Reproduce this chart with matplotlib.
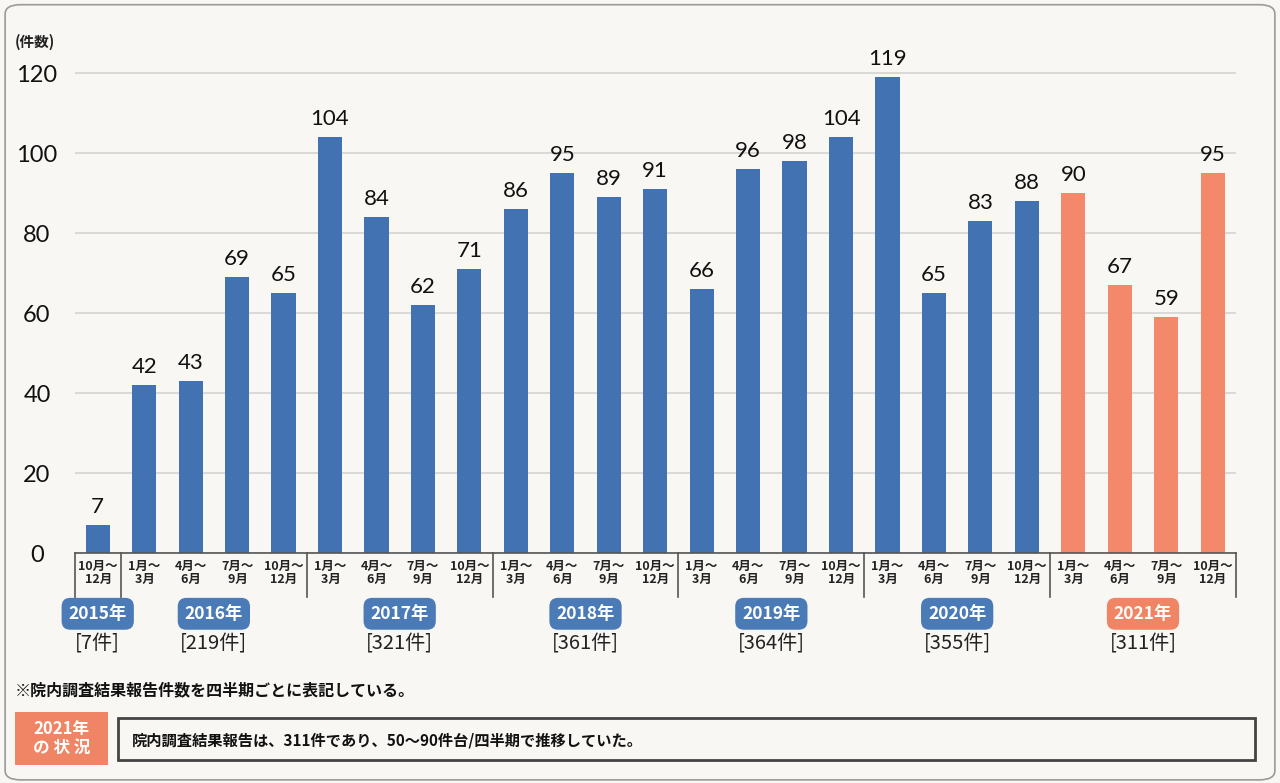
import matplotlib
matplotlib.use("Agg")
import matplotlib.pyplot as plt
from matplotlib.patches import FancyBboxPatch, Rectangle

# ---- data ----
values = [7, 42, 43, 69, 65, 104, 84, 62, 71, 86, 95, 89, 91, 66, 96, 98, 104,
          119, 65, 83, 88, 90, 67, 59, 95]
quarter_labels = ["10月～\n12月"] + ["1月～\n3月", "4月～\n6月", "7月～\n9月", "10月～\n12月"] * 6
years = ["2015年", "2016年", "2017年", "2018年", "2019年", "2020年", "2021年"]
year_counts = ["[7件]", "[219件]", "[321件]", "[361件]", "[364件]", "[355件]", "[311件]"]
year_quarters = [1, 4, 4, 4, 4, 4, 4]
highlight_year = "2021年"
yticks = [0, 20, 40, 60, 80, 100, 120]
ylabel = "(件数)"
note = "※院内調査結果報告件数を四半期ごとに表記している。"
status_title = "2021年\nの 状 況"
status_text = "院内調査結果報告は、311件であり、50～90件台/四半期で推移していた。"

BLUE = "#4272b2"
BLUE_BOX = "#4a7bb6"
ORANGE = "#f4886a"
ORANGE_BOX = "#f08565"
BG = "#f8f7f3"
JP = ["Noto Sans CJK JP", "DejaVu Sans"]
NUM = ["Lato", "Noto Sans CJK JP", "DejaVu Sans"]

fig = plt.figure(figsize=(12.8, 7.83), dpi=100)
fig.patch.set_facecolor(BG)

# page border
fig.patches.append(FancyBboxPatch((0.004, 0.004), 0.992, 0.990,
                                  boxstyle="round,pad=0,rounding_size=0.012",
                                  transform=fig.transFigure, fc="none",
                                  ec="#9a9a9a", lw=1.2))

ax = fig.add_axes([74.5 / 1280, 230 / 783, 1161.4 / 1280, 500 / 783])
ax.set_facecolor("none")
ax.set_xlim(-0.5, len(values) - 0.5)
ax.set_ylim(0, 125)

# colours per bar by year
colors = []
for yname, nq in zip(years, year_quarters):
    colors += [ORANGE if yname == highlight_year else BLUE] * nq

x = list(range(len(values)))
ax.set_yticks(yticks)
ax.grid(axis="y", color="#d6d6d6", lw=1.3)
ax.set_axisbelow(True)
bars = ax.bar(x, values, width=0.52, color=colors, zorder=3)
for xi, v in zip(x, values):
    ax.annotate(str(v), (xi, v), xytext=(0, 6), textcoords="offset points",
                ha="center", va="bottom", fontsize=16, family=NUM, color="#111")

for s in ax.spines.values():
    s.set_visible(False)
ax.tick_params(axis="both", length=0)
ax.set_xticks([])
ax.set_yticklabels([str(t) for t in yticks], fontsize=17, family=NUM, color="#111")
for lab in ax.get_yticklabels():
    lab.set_horizontalalignment("center")
ax.tick_params(axis="y", pad=27)

# table under axis
ax.plot([-0.5, len(values) - 0.5], [0, 0], color="#555555", lw=1.2,
        clip_on=False, zorder=4)
bounds = [-0.5]
acc = -0.5
for nq in year_quarters:
    acc += nq
    bounds.append(acc)
for b in bounds:
    ax.plot([b, b], [0, -11], color="#555555", lw=1.2, clip_on=False, zorder=4)

for xi, lab in zip(x, quarter_labels):
    a, b = lab.split("\n")
    ax.text(xi, -5, a + "\n" + b + "  ", ha="center", va="center", fontsize=9,
            fontweight="bold", family=JP, color="#222", multialignment="right",
            linespacing=1.0, clip_on=False)

start = 0
for yname, cnt, nq in zip(years, year_counts, year_quarters):
    cx = start + (nq - 1) / 2
    start += nq
    fc = ORANGE_BOX if yname == highlight_year else BLUE_BOX
    ax.text(cx, -15.2, yname, ha="center", va="center", fontsize=12.5,
            fontweight="bold", family=JP, color="white", clip_on=False,
            bbox=dict(boxstyle="round,pad=0.4,rounding_size=0.5", fc=fc, ec="none"))
    ax.text(cx, -22.6, cnt, ha="center", va="center", fontsize=14.5,
            family=JP, color="#222", clip_on=False)

fig.text(15 / 1280, 1 - 42 / 783, ylabel, ha="left", va="center", fontsize=10.5,
         fontweight="bold", family=JP, color="#222")

fig.text(15 / 1280, 1 - 690 / 783, note, ha="left", va="center", fontsize=11.5,
         fontweight="bold", family=JP, color="#111")

# status box
fig.patches.append(Rectangle((15 / 1280, 1 - 765 / 783), 93 / 1280, 53 / 783,
                             transform=fig.transFigure, fc=ORANGE_BOX, ec="none"))
fig.text(61.5 / 1280, 1 - 738.5 / 783, status_title, ha="center", va="center",
         fontsize=12, fontweight="bold", family=JP, color="white", linespacing=1.05)
fig.patches.append(Rectangle((118 / 1280, 1 - 760 / 783), 1137 / 1280, 42 / 783,
                             transform=fig.transFigure, fc="none", ec="#444444", lw=2))
fig.text(132 / 1280, 1 - 740 / 783, status_text, ha="left", va="center",
         fontsize=11, fontweight="bold", family=JP, color="#111")

fig.savefig("out.png", dpi=100, facecolor=BG)
